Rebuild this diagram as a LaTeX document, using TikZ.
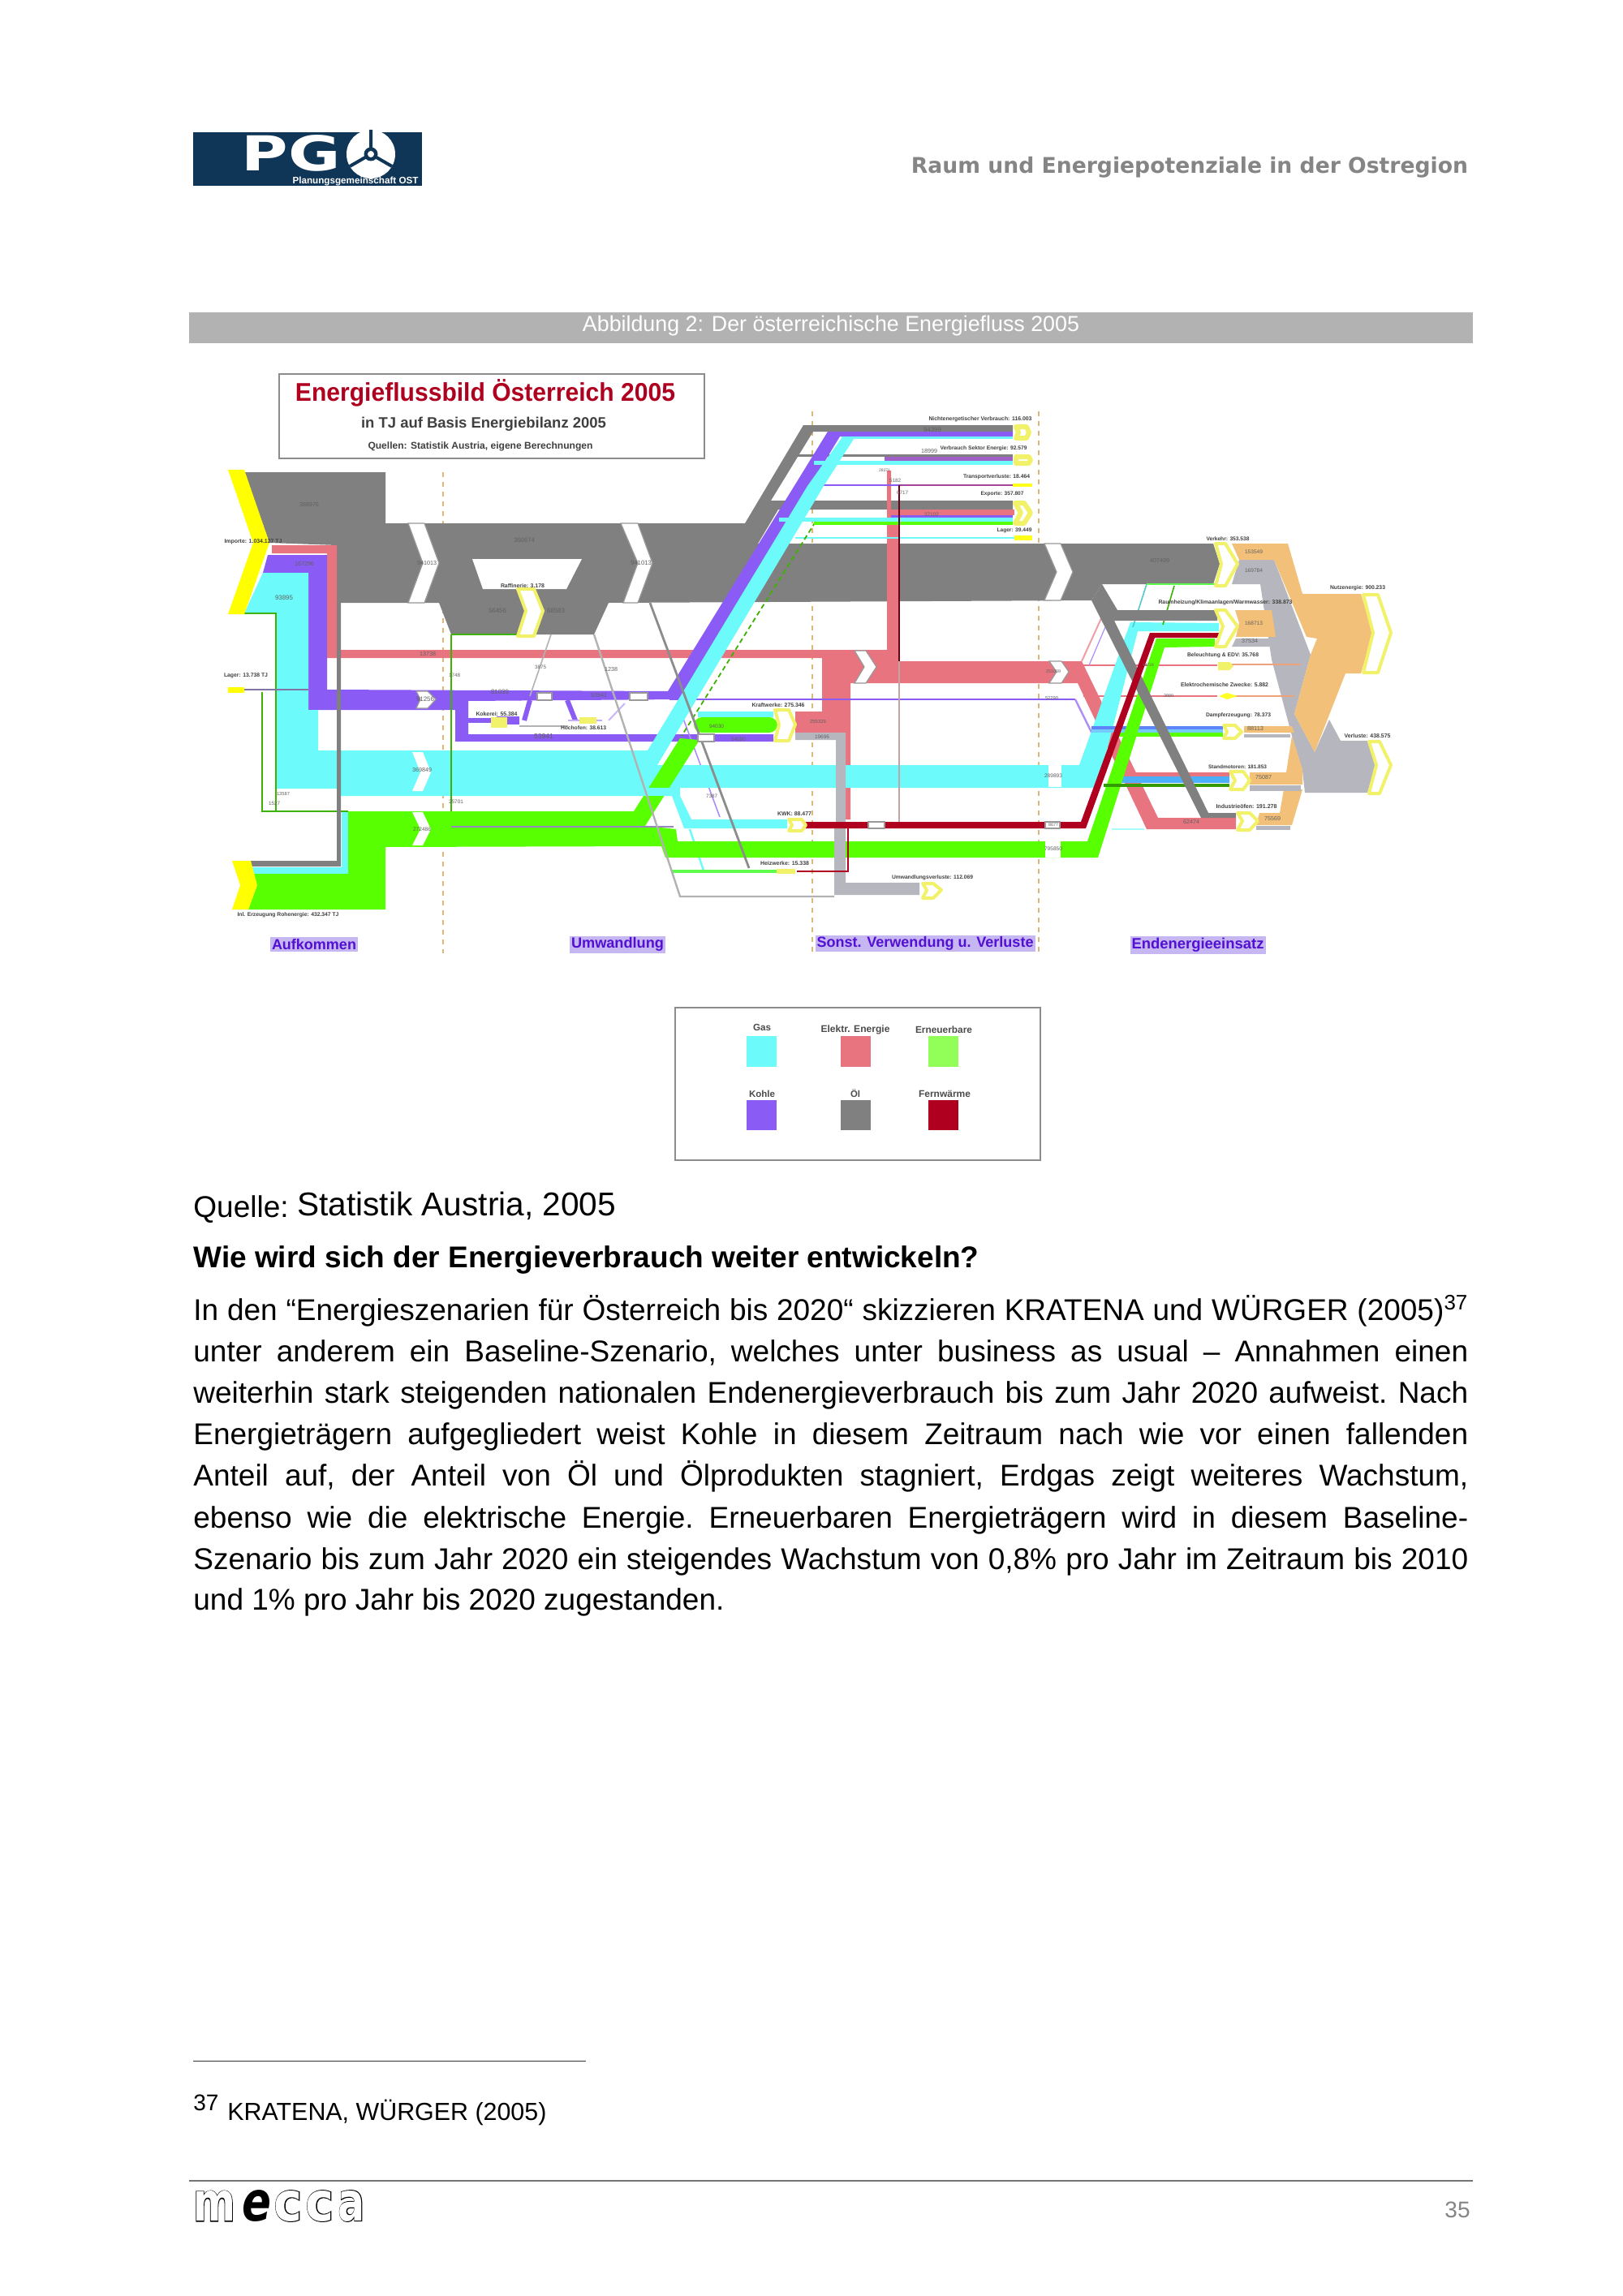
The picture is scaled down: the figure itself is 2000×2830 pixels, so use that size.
\documentclass[tikz,border=0pt]{standalone}
\usepackage{fontspec}
\usepackage{graphicx}
\setmainfont{Liberation Sans}
\newfontfamily\djv{DejaVu Sans}
\newfontfamily\djvfat[FakeBold=3]{DejaVu Sans}
\newdimen\pxu \pxu=0.5pt
\newcommand{\fw}[2]{\resizebox{#1\pxu}{!}{#2}}
\newcommand{\fwh}[3]{\resizebox{#1\pxu}{#2\pxu}{#3}}
\newcounter{lb}
\definecolor{oilc}{HTML}{808080}
\definecolor{gasc}{HTML}{6CFAFA}
\definecolor{elc}{HTML}{E87480}
\definecolor{coalc}{HTML}{8A5CF5}
\definecolor{renc}{HTML}{58FF00}
\definecolor{heatc}{HTML}{B00020}
\definecolor{tanc}{HTML}{F2C078}
\definecolor{dithc}{HTML}{B6B6BE}
\definecolor{paley}{HTML}{F2F26A}
\definecolor{yelc}{HTML}{FFFF00}
\definecolor{lavc}{HTML}{C6B6F2}
\definecolor{labc}{HTML}{5210D2}
\definecolor{navyc}{HTML}{0F3557}
\definecolor{mauvec}{HTML}{A060C8}
\definecolor{dashc}{HTML}{DDB878}
\newcommand{\lab}[4]{\stepcounter{lb}\node[smalllab] (lab\arabic{lb}) at (#1,#2) {\fw{#3}{\bfseries #4}};}
\newcommand{\num}[4]{\stepcounter{lb}\node[numlab] (lab\arabic{lb}) at (#1,#2) {\fw{#3}{#4}};}
\tikzset{
  smalllab/.style={inner sep=0pt,text=black!75},
  numlab/.style={inner sep=0pt,text=black!62},
  ychev/.style={fill=white,draw=paley,line width=2pt,line join=round},
  wchev/.style={fill=white,draw=black!40,line width=0.6pt},
  flowdash/.style={draw=dashc,line width=1pt,dashed},
  sect/.style={inner sep=1pt,fill=lavc,text=labc,font=\bfseries},
  lgd/.style={inner sep=0pt,text=black!70,font=\bfseries},
  bodyline/.style={inner sep=0pt,anchor=base west,font=\frenchspacing\fontsize{18.5pt}{22pt}\selectfont},
}
\begin{document}
\begin{tikzpicture}[x=0.5pt,y=-0.5pt]
\useasboundingbox (0,0) rectangle (2000,2830);
\fill[white] (0,0) rectangle (2000,2830);

% ---- header
\fill[navyc] (238,163) rectangle (520,229);
\node[inner sep=0pt,text=white] (pglogo) at (359,189) {\fwh{122}{44}{\djv\bfseries PG}};
\fill[white] (457,190) circle (30);
\draw[navyc,line width=2pt] (457,190) -- (457,160) (457,190) -- (431,205) (457,190) -- (483,205);
\fill[navyc] (457,190) circle (8.5);
\fill[white] (457,190) circle (4);
\node[inner sep=0pt,text=white] (pgsub) at (438,224) {\fw{155}{\bfseries Planungsgemeinschaft OST}};
\node[inner sep=0pt,text=black!48] (headr) at (1466,206) {\fw{686}{\djv\bfseries Raum und Energiepotenziale in der Ostregion}};
\fill[black!30] (233,385) rectangle (1815,423);
\node[inner sep=0pt,text=white] (capt) at (1024,402) {\fw{612}{Abbildung 2: Der österreichische Energiefluss 2005}};

% ---- title box
\node[draw=black!45,line width=0.6pt,minimum width=262pt,minimum height=52pt,inner sep=0pt] (titlebox) at (606,513) {};
\node[inner sep=0pt,text=heatc] (t1) at (598,484) {\fwh{468}{27}{\bfseries Energieflussbild Österreich 2005}};
\node[inner sep=0pt,text=black!75] (t2) at (596,523) {\fw{302}{\bfseries in TJ auf Basis Energiebilanz 2005}};
\node[inner sep=0pt,text=black!75] (t3) at (592,550) {\fw{277}{\bfseries Quellen: Statistik Austria, eigene Berechnungen}};

% ---- section separators
\draw[flowdash] (546,582) -- (546,1175);
\draw[flowdash] (1001,507) -- (1001,1175);
\draw[flowdash] (1280,507) -- (1280,1175);

% ---- main oil
\fill[oilc] (301,582) -- (475,582) -- (475,645) -- (918,645) -- (990,524) -- (1248,524) -- (1248,532) -- (1002,532) -- (950,617) -- (1248,617) -- (1248,628) -- (959,628) -- (934,670) -- (1495,670) -- (1503,695) -- (1495,720) -- (1358,720) -- (1345,740) -- (750,743) -- (732,782) -- (556,782) -- (541,743) -- (415,743) -- (415,672) -- (332,669) -- cycle;
\fill[oilc] (980,560) rectangle (1248,563);
\fill[white] (582,689) -- (717,689) -- (698,726) -- (595,726) -- cycle;

% ---- tan & dither on the right
\fill[dithc] (1527,690) -- (1570,690) -- (1615,807) -- (1595,880) -- (1620,927) -- (1638,887) -- (1652,913) -- (1685,913) -- (1695,943) -- (1685,977) -- (1608,977) -- (1605,950) -- (1592,907) -- (1567,813) -- (1553,720) -- (1518,720) -- cycle;
\fill[dithc] (1523,787) -- (1565,787) -- (1570,797) -- (1518,797) -- cycle;
\fill[tanc] (1518,670) -- (1587,670) -- (1605,732) -- (1677,732) -- (1692,780) -- (1677,830) -- (1658,830) -- (1620,927) -- (1595,880) -- (1615,807) -- (1623,787) -- (1610,785) -- (1570,690) -- (1527,690) -- cycle;
\fill[tanc] (1522,752) -- (1567,752) -- (1572,785) -- (1523,785) -- (1527,768) -- cycle;
\fill[tanc] (1533,895) -- (1592,895) -- (1595,903) -- (1533,903) -- cycle;
\fill[tanc] (1592,907) -- (1605,948) -- (1605,967) -- (1540,967) -- (1540,952) -- (1585,952) -- cycle;
\fill[tanc] (1582,973) -- (1605,973) -- (1592,1017) -- (1548,1017) -- (1552,1002) -- (1577,1002) -- cycle;
\fill[dithc] (1540,968) rectangle (1603,975);
\fill[dithc] (1548,1018) rectangle (1590,1023);
\fill[dithc] (1533,905) rectangle (1590,909);
\draw[elc!40!tanc,line width=1pt] (1515,819) -- (1603,819);
\draw[elc!40!tanc,line width=0.6pt] (1520,858) -- (1595,858);

% ---- electricity
\fill[elc] (335,672) -- (415,672) -- (415,801) -- (1093,801) -- (1093,580) -- (1098,580) -- (1098,647) -- (1108,647) -- (1108,815) -- (1333,815) -- (1427,1008) -- (1523,1008) -- (1523,1022) -- (1413,1022) -- (1328,842) -- (1048,842) -- (1048,1010) -- (1040,1010) -- (1040,903) -- (980,903) -- (980,877) -- (1013,877) -- (1013,811) -- (403,811) -- (403,682) -- (335,682) -- cycle;
\fill[elc] (1098,628) rectangle (1250,635);
\fill[elc] (1393,952) rectangle (1515,957);
\draw[elc,line width=1.2pt] (1333,820) -- (1500,820);
\draw[elc,line width=0.6pt] (1335,858) -- (1500,858);
\draw[elc!70,line width=1pt] (1333,815) -- (1358,760);

% ---- coal
\fill[coalc] (330,684) -- (403,684) -- (403,850) -- (823,852) -- (1020,532) -- (1248,532) -- (1248,538) -- (1035,538) -- (838,862) -- (577,864) -- (577,905) -- (953,905) -- (953,914) -- (561,914) -- (561,875) -- (380,875) -- (380,706) -- (324,706) -- cycle;
\fill[mauvec] (1090,563) rectangle (1248,568);
\fill[coalc] (1098,635) rectangle (1248,638);
\draw[coalc,line width=1pt] (990,598) -- (1108,598);
\draw[mauvec!70!heatc,line width=1.4pt] (1108,598) -- (1248,598);
\draw[coalc,line width=1.2pt] (825,862) -- (1325,862);
\draw[coalc!70,line width=1.2pt] (1325,862) -- (1362,937);
\draw[coalc!70,line width=0.6pt] (1342,820) -- (1362,773);
\draw[coalc!70,line width=0.8pt] (835,867) -- (887,1007);
\fill[coalc] (612,883) rectangle (640,893);
\draw[coalc,line width=3pt] (646,888) -- (653,863);
\draw[coalc,line width=3pt] (699,863) -- (709,888);
\fill[coalc] (575,885) rectangle (605,891);
\draw[coalc!50,line width=0.8pt] (700,888) -- (742,888);
\draw[coalc!45,line width=1pt] (770,867) -- (750,888);

% ---- gas
\fill[gasc] (324,706) -- (380,706) -- (380,875) -- (392,875) -- (392,925) -- (798,925) -- (995,599) -- (1037,540) -- (1052,541) -- (1015,599) -- (810,943) -- (1330,943) -- (1393,767) -- (1502,768) -- (1502,778) -- (1402,778) -- (1352,971) -- (838,971) -- (838,981) -- (416,981) -- (416,972) -- (340,972) -- (340,756) -- (301,756) -- cycle;
\fill[gasc] (828,981) -- (838,981) -- (852,1010) -- (970,1010) -- (970,1021) -- (843,1021) -- cycle;
\fill[gasc] (309,1069) -- (421,1069) -- (421,1000) -- (429,1000) -- (429,1077) -- (309,1077) -- cycle;
\fill[gasc] (1037,538) rectangle (1248,541);
\fill[gasc] (1003,568) rectangle (1248,573);
\fill[gasc] (960,638) rectangle (1248,643);
\fill[gasc] (980,662) rectangle (1250,664);
\fill[gasc] (860,877) rectangle (953,884);
\draw[gasc,line width=1.2pt] (850,1022) -- (867,1073);
\fill[gasc!70!coalc] (1345,899) rectangle (1507,903);
\fill[coalc!60!blue!60!gasc] (1345,895) rectangle (1507,899);
\fill[gasc!70!blue] (1367,957) rectangle (1515,965);
\draw[gasc!60,line width=0.8pt] (1370,1022) -- (1410,1022);
\draw[gasc!80!black,line width=0.8pt] (1413,720) -- (1396,773);

% ---- gas/green thin
\draw[renc!70!black,line width=0.9pt] (301,756) -- (340,756) -- (340,1000) -- (429,1000);
\draw[renc!70!black,line width=0.9pt] (323,853) -- (323,1000) -- (340,1000);
\draw[renc!70!black,line width=0.9pt] (556,782) -- (640,782);
\draw[renc!70!black,line width=0.9pt] (556,782) -- (556,1019);
\draw[renc!70!black,line width=0.9pt,densely dashed] (1005,643) -- (840,907);
\draw[renc!70!gasc,line width=0.9pt] (1413,720) -- (1497,720);
\draw[renc!70!black,line width=0.8pt] (1447,722) -- (1433,770);

% ---- renewables
\fill[renc] (306,1121) -- (475,1121) -- (475,1044) -- (815,1043) -- (820,1057) -- (1353,1057) -- (1435,798) -- (1497,797) -- (1497,787) -- (1425,787) -- (1340,1037) -- (835,1037) -- (833,1022) -- (795,1018) -- (862,912) -- (838,910) -- (781,1000) -- (429,1000) -- (429,1077) -- (309,1077) -- (317,1091) -- cycle;
\fill[gasc] (793,971) rectangle (838,981);
\fill[renc,rounded corners=5pt] (855,884) rectangle (958,903);
\fill[renc] (1377,903) rectangle (1507,908);
\fill[renc!60!black] (1360,966) rectangle (1515,970);
\fill[renc] (1003,643) rectangle (1248,647);
\fill[renc!70!gasc] (828,1072) rectangle (957,1076);
\draw[coalc!60!black!60,line width=1pt] (556,1019) -- (830,1019);

% ---- dither grey in the centre
\fill[dithc] (980,903) -- (1042,903) -- (1042,1088) -- (1133,1088) -- (1133,1103) -- (1028,1103) -- (1028,1020) -- (1030,1020) -- (1030,912) -- (980,912) -- cycle;

% ---- thin grey
\draw[black!45,line width=1.4pt] (801,743) -- (923,1070);
\draw[black!30,line width=1.2pt] (732,782) -- (838,1105) -- (1028,1105);
\draw[black!30,line width=0.8pt] (679,782) -- (653,858);
\draw[black!30,line width=0.7pt] (640,895) -- (700,895);
\draw[elc!60!black!50,line width=0.8pt] (1108,811) -- (1108,1013);
\draw[heatc!60!black,line width=0.7pt] (1108,598) -- (1108,815);

% ---- oil lower parts
\fill[oilc] (415,743) -- (420,743) -- (420,1068) -- (309,1068) -- (309,1061) -- (415,1061) -- cycle;
\fill[oilc] (1345,740) -- (1358,720) -- (1377,752) -- (1500,752) -- (1500,765) -- (1373,765) -- (1489,1002) -- (1523,1002) -- (1523,1008) -- (1480,1008) -- cycle;
\draw[oilc!70!coalc,line width=1pt] (301,850) -- (380,850);

% ---- heat
\fill[heatc] (993,1013) -- (1332,1013) -- (1417,780) -- (1502,780) -- (1502,786) -- (1423,786) -- (1338,1021) -- (993,1021) -- cycle;
\draw[heatc,line width=0.9pt] (982,1074) -- (1045,1074) -- (1045,1019);

% ---- yellow sources and end points
\fill[yelc] (281,579) -- (301,579) -- (332,669) -- (301,757) -- (281,757) -- (312,669) -- cycle;
\fill[yelc] (286,1061) -- (309,1061) -- (317,1091) -- (306,1121) -- (286,1121) -- (296,1091) -- cycle;
\fill[yelc] (281,847) rectangle (301,854);
\fill[paley] (957,1071) rectangle (980,1077);
\fill[paley] (1501,816) -- (1515,816) -- (1520,821) -- (1515,826) -- (1501,826) -- cycle;
\fill[yelc!85!white] (1502,858) -- (1512,854) -- (1525,858) -- (1512,862) -- cycle;
\fill[yelc!90!white] (1248,596) rectangle (1272,600);
\fill[yelc!90!white] (1250,660) rectangle (1272,666);
\fill[paley] (605,884) rectangle (625,897);
\fill[paley] (714,884) rectangle (735,892);

\draw[ychev] (638,726) -- (658,726) -- (669,753) -- (658,784) -- (638,784) -- (648,753) -- cycle;
\draw[ychev] (955,875) -- (972,875) -- (980,893) -- (972,913) -- (955,913) -- (960,893) -- cycle;
\draw[ychev] (972,1010) -- (988,1010) -- (993,1017) -- (988,1024) -- (972,1024) -- (976,1017) -- cycle;
\draw[ychev] (1137,1089) -- (1150,1089) -- (1160,1097) -- (1150,1107) -- (1137,1107) -- (1142,1097) -- cycle;
\draw[ychev,line width=3pt] (1252,526) -- (1265,526) -- (1268,533) -- (1265,540) -- (1252,540) -- (1255,533) -- cycle;
\draw[ychev,line width=3pt] (1252,563) -- (1268,563) -- (1270,567) -- (1268,571) -- (1252,571) -- cycle;
\draw[ychev,line width=3pt] (1251,620) -- (1262,620) -- (1270,632) -- (1262,645) -- (1251,645) -- (1258,632) -- cycle;
\draw[ychev] (1498,670) -- (1510,670) -- (1525,695) -- (1510,722) -- (1498,722) -- (1505,695) -- cycle;
\draw[ychev] (1498,752) -- (1510,752) -- (1525,772) -- (1510,797) -- (1498,797) -- (1507,772) -- cycle;
\draw[ychev] (1508,894) -- (1522,894) -- (1530,902) -- (1522,910) -- (1508,910) -- (1512,902) -- cycle;
\draw[ychev] (1516,951) -- (1532,951) -- (1540,962) -- (1532,973) -- (1516,973) -- (1522,962) -- cycle;
\draw[ychev] (1525,1002) -- (1540,1002) -- (1550,1012) -- (1540,1023) -- (1525,1023) -- (1531,1012) -- cycle;
\draw[ychev] (1680,733) -- (1698,733) -- (1714,780) -- (1698,829) -- (1680,829) -- (1692,780) -- cycle;
\draw[ychev] (1687,914) -- (1700,914) -- (1714,943) -- (1700,978) -- (1687,978) -- (1696,943) -- cycle;

% ---- white chevrons
\draw[wchev] (503,645) -- (523,645) -- (541,694) -- (523,743) -- (503,743) -- (521,694) -- cycle;
\draw[wchev] (765,645) -- (786,645) -- (804,694) -- (786,743) -- (768,743) -- (786,694) -- cycle;
\draw[wchev] (1287,670) -- (1307,670) -- (1322,705) -- (1307,740) -- (1287,740) -- (1302,705) -- cycle;
\draw[wchev] (1053,802) -- (1067,802) -- (1080,822) -- (1067,842) -- (1053,842) -- (1065,822) -- cycle;
\draw[wchev] (1293,815) -- (1308,815) -- (1317,828) -- (1308,842) -- (1293,842) -- (1302,828) -- cycle;
\fill[white] (508,927) -- (521,927) -- (531,952) -- (521,975) -- (508,975) -- (518,952) -- cycle;
\fill[white] (508,1001) -- (521,1001) -- (531,1022) -- (521,1042) -- (508,1042) -- (518,1022) -- cycle;
\draw[wchev] (513,852) -- (527,852) -- (537,862) -- (527,873) -- (513,873) -- (518,862) -- cycle;
\draw[wchev] (662,854) rectangle (680,863);
\draw[wchev] (776,854) rectangle (798,863);
\draw[wchev] (860,905) rectangle (880,914);
\fill[white] (1292,942) rectangle (1308,970);
\fill[white] (1288,1037) rectangle (1307,1057);
\draw[wchev] (1070,1013) rectangle (1090,1021);
\draw[wchev] (1288,1013) rectangle (1306,1021);

% ---- value labels on the flows
\num{381}{622}{24}{388976}
\num{375}{695}{24}{167296}
\num{350}{737}{22}{93895}
\num{646}{666}{26}{360674}
\num{526}{694}{24}{941013}
\num{790}{694}{26}{941013}
\num{613}{753}{22}{56456}
\num{685}{753}{22}{68583}
\num{527}{806}{20}{13738}
\num{560}{832}{14}{1748}
\num{666}{822}{14}{3875}
\num{753}{825}{16}{1238}
\num{524}{862}{22}{91256}
\num{616}{853}{22}{81039}
\num{738}{857}{20}{53941}
\num{670}{908}{24}{53941}
\num{520}{949}{24}{369849}
\num{520}{1022}{22}{272486}
\num{338}{990}{14}{1527}
\num{349}{979}{16}{13587}
\num{562}{988}{18}{25701}
\num{883}{895}{18}{94030}
\num{910}{911}{18}{54090}
\num{1008}{889}{20}{255329}
\num{1013}{908}{18}{19696}
\num{877}{981}{14}{7387}
\num{1149}{530}{22}{94399}
\num{1148}{634}{18}{37102}
\num{1145}{556}{20}{18999}
\num{1090}{580}{14}{28371}
\num{1103}{592}{14}{5182}
\num{1112}{607}{14}{6717}
\num{1429}{691}{24}{407499}
\num{1545}{680}{22}{153549}
\num{1545}{703}{22}{169784}
\num{1545}{768}{22}{168713}
\num{1540}{790}{20}{37534}
\num{1547}{898}{20}{88113}
\num{1557}{958}{20}{75087}
\num{1568}{1009}{20}{75569}
\num{1468}{1013}{20}{62474}
\num{1298}{956}{22}{289893}
\num{1298}{1046}{22}{795850}
\num{1298}{1017}{12}{8677}
\num{1298}{828}{18}{251009}
\num{1296}{861}{16}{52290}
\num{1415}{820}{14}{44724}
\num{1440}{858}{12}{3889}

% ---- labels
\lab{312}{668}{71}{Importe: 1.034.127 TJ}
\lab{303}{833}{54}{Lager: 13.738 TJ}
\lab{355}{1128}{125}{Inl. Erzeugung Rohenergie: 432.347 TJ}
\lab{644}{722}{54}{Raffinerie: 3.178}
\lab{612}{880}{51}{Kokerei: 55.384}
\lab{719}{897}{56}{Hochofen: 38.613}
\lab{959}{869}{65}{Kraftwerke: 275.346}
\lab{979}{1003}{42}{KWK: 88.477}
\lab{967}{1064}{60}{Heizwerke: 15.338}
\lab{1149}{1082}{100}{Umwandlungsverluste: 112.069}
\lab{1208}{517}{127}{Nichtenergetischer Verbrauch: 116.003}
\lab{1212}{553}{107}{Verbrauch Sektor Energie: 92.579}
\lab{1228}{588}{82}{Transportverluste: 18.464}
\lab{1235}{609}{53}{Exporte: 357.807}
\lab{1250}{654}{43}{Lager: 39.449}
\lab{1513}{664}{53}{Verkehr: 353.538}
\lab{1510}{743}{165}{Raumheizung/Klimaanlagen/Warmwasser: 338.873}
\lab{1507}{808}{88}{Beleuchtung \& EDV: 35.768}
\lab{1509}{844}{108}{Elektrochemische Zwecke: 5.882}
\lab{1526}{882}{80}{Dampferzeugung: 78.373}
\lab{1525}{945}{72}{Standmotoren: 181.853}
\lab{1536}{994}{75}{Industrieöfen: 191.278}
\lab{1673}{725}{68}{Nutzenergie: 900.233}
\lab{1685}{907}{57}{Verluste: 438.575}

% ---- section names
\node[sect] (secA) at (387,1164) {\fw{104}{Aufkommen}};
\node[sect] (secB) at (761,1164) {\fw{114}{Umwandlung}};
\node[sect] (secC) at (1140,1163) {\fw{267}{Sonst. Verwendung u. Verluste}};
\node[sect] (secD) at (1476,1165) {\fw{163}{Endenergieeinsatz}};

% ---- legend
\node[draw=black!45,line width=0.8pt,minimum width=225pt,minimum height=94pt,inner sep=0pt] (legendbox) at (1057,1336) {};
\fill[gasc] (920,1277) rectangle (957,1315);
\fill[elc] (1036,1277) rectangle (1073,1315);
\fill[renc!65!white] (1144,1277) rectangle (1181,1315);
\fill[coalc] (920,1356) rectangle (957,1393);
\fill[oilc] (1036,1356) rectangle (1073,1393);
\fill[heatc] (1144,1356) rectangle (1181,1393);
\node[lgd] (lg1) at (939,1266) {\fw{22}{Gas}};
\node[lgd] (lg2) at (1054,1269) {\fw{85}{Elektr. Energie}};
\node[lgd] (lg3) at (1163,1269) {\fw{70}{Erneuerbare}};
\node[lgd] (lg4) at (939,1348) {\fw{32}{Kohle}};
\node[lgd] (lg5) at (1054,1348) {\fw{12}{Öl}};
\node[lgd] (lg6) at (1164,1348) {\fw{64}{Fernwärme}};

% ---- body text
\node[bodyline] (quelleA) at (238,1500) {Quelle:};
\node[bodyline,font=\fontsize{20.3pt}{24pt}\selectfont] (quelleB) at (366,1498) {Statistik Austria, 2005};
\node[bodyline,font=\fontsize{18.5pt}{22pt}\selectfont\bfseries] (heading) at (238,1562) {Wie wird sich der Energieverbrauch weiter entwickeln?};
\node[bodyline] (b1) at (238,1627) {\makebox[1571\pxu][s]{In den “Energieszenarien für Österreich bis 2020“ skizzieren KRATENA und WÜRGER (2005)\textsuperscript{37}}};
\node[bodyline] (b2) at (238,1678) {\makebox[1571\pxu][s]{unter anderem ein Baseline-Szenario, welches unter business as usual – Annahmen einen}};
\node[bodyline] (b3) at (238,1729) {\makebox[1571\pxu][s]{weiterhin stark steigenden nationalen Endenergieverbrauch bis zum Jahr 2020 aufweist. Nach}};
\node[bodyline] (b4) at (238,1780) {\makebox[1571\pxu][s]{Energieträgern aufgegliedert weist Kohle in diesem Zeitraum nach wie vor einen fallenden}};
\node[bodyline] (b5) at (238,1831) {\makebox[1571\pxu][s]{Anteil auf, der Anteil von Öl und Ölprodukten stagniert, Erdgas zeigt weiteres Wachstum,}};
\node[bodyline] (b6) at (238,1883) {\makebox[1571\pxu][s]{ebenso wie die elektrische Energie. Erneuerbaren Energieträgern wird in diesem Baseline-}};
\node[bodyline] (b7) at (238,1934) {\makebox[1571\pxu][s]{Szenario bis zum Jahr 2020 ein steigendes Wachstum von 0,8\% pro Jahr im Zeitraum bis 2010}};
\node[bodyline] (b8) at (238,1984) {und 1\% pro Jahr bis 2020 zugestanden.};

% ---- footnote & footer
\draw[black!80,line width=0.5pt] (238,2540) -- (722,2540);
\node[bodyline,font=\fontsize{14pt}{17pt}\selectfont] (fnnum) at (238,2601) {37};
\node[bodyline,font=\fontsize{15.2pt}{19pt}\selectfont] (fn) at (280,2613) {KRATENA, WÜRGER (2005)};
\draw[black!55,line width=1.2pt] (233,2688) -- (1815,2688);
\node[inner sep=0pt,text=black!48,font=\fontsize{14pt}{16pt}\selectfont] (pageno) at (1796,2724) {35};

% ---- mecca logo (outlined letters)
\foreach \lx/\lw/\lt/\lnm in {264/52/m/lm,355/35/c/lc,394/35/c/ld,433/33/a/la}{
  \node[inner sep=0pt,text=black] (\lnm o) at (\lx,2719) {\fwh{\lw}{37}{\djvfat\bfseries \lt}};
  \node[inner sep=0pt,text=white] (\lnm i) at (\lx,2719) {\fwh{\lw}{37}{\djv\bfseries \lt}};
}
\node[inner sep=0pt,text=black] (le) at (316,2719) {\fwh{36}{38}{\djv\bfseries\itshape e}};
\end{tikzpicture}
\end{document}
